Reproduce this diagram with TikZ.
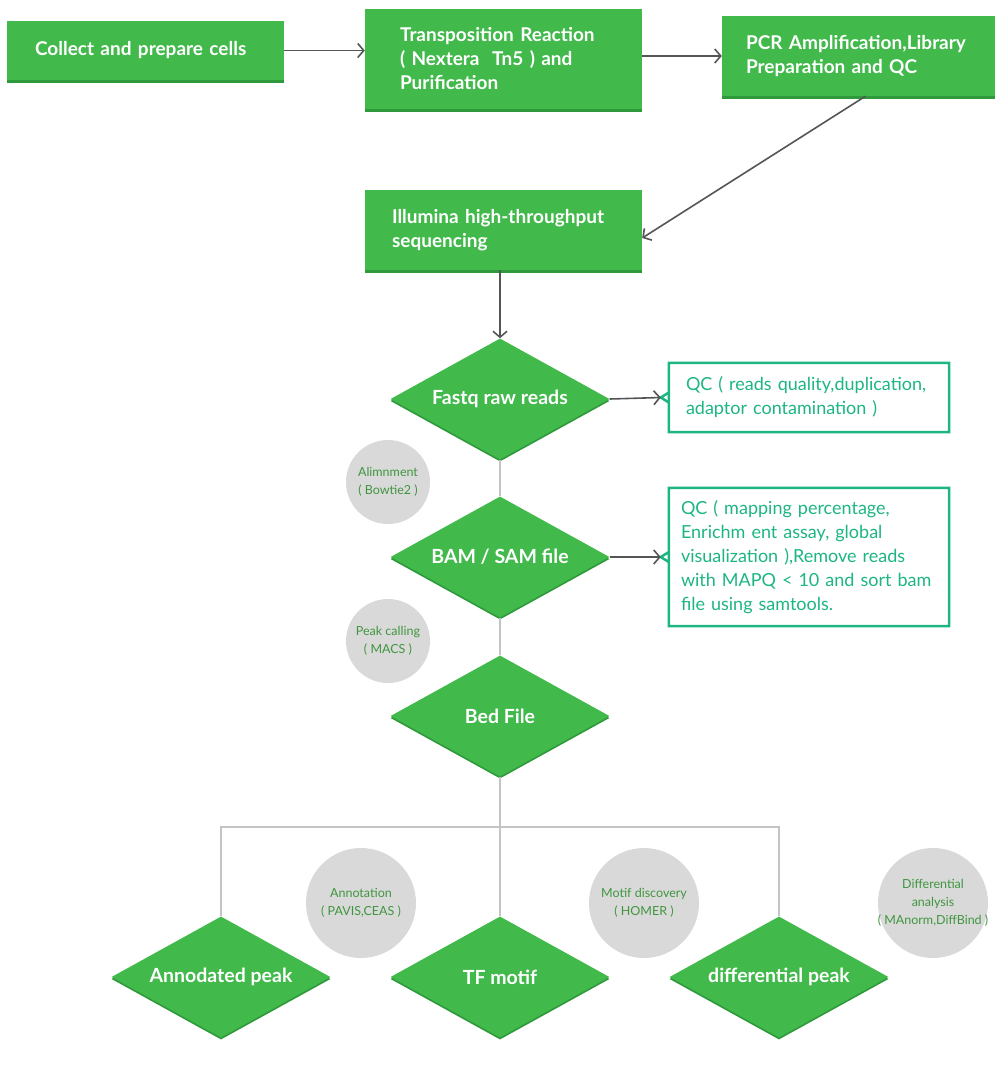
\documentclass[tikz,border=0pt]{standalone}
\usepackage{fontspec}
\setmainfont{Lato}
\usetikzlibrary{shapes.geometric,shadows,arrows.meta}

\definecolor{stepgreen}{HTML}{41B94B}
\definecolor{stepdark}{HTML}{2E9A3B}
\definecolor{qcteal}{HTML}{1DB584}
\definecolor{toolgrey}{HTML}{D9D9D9}
\definecolor{toolgreen}{HTML}{3F963F}
\definecolor{linkgrey}{HTML}{C4C4C4}
\definecolor{arrowgrey}{HTML}{555555}

\tikzset{
  stepbox/.style={rectangle, fill=stepgreen, text=white, font=\fontsize{19}{24}\selectfont\bfseries,
    align=left, minimum width=277pt, inner xsep=28pt, text width=221pt,
    drop shadow={shadow xshift=0pt, shadow yshift=-3pt, fill=stepdark, opacity=1}},
  filestep/.style={diamond, aspect=1.8, fill=stepgreen, text=white, font=\fontsize{19.5}{22}\selectfont\bfseries,
    minimum width=219pt, minimum height=121pt, inner sep=0pt,
    drop shadow={shadow xshift=0pt, shadow yshift=-2pt, fill=stepdark, opacity=1}},
  qcnote/.style={rectangle, text=qcteal, font=\fontsize{18}{24}\selectfont, align=left,
    minimum width=280pt, inner xsep=17pt, text width=246pt},
  qcline/.style={draw=qcteal, line width=2.5pt},
  toolnote/.style={circle, fill=toolgrey, text=toolgreen, font=\fontsize{12.5}{18}\selectfont,
    align=center, inner sep=-15pt},
  flow/.style={draw=arrowgrey, line width=1.6pt, -{Straight Barb[length=6pt,width=14pt,line width=1.6pt]}},
  link/.style={draw=linkgrey, line width=2pt}
}

\begin{document}
\begin{tikzpicture}[x=1pt, y=-1pt]
        \useasboundingbox (0,0) rectangle (1000,1080);

        % Wet lab steps
        \node [stepbox, minimum height=59pt] (collect) at (145.5,50.5) {Collect and prepare cells};
        \node [stepbox, minimum height=100pt, inner xsep=35pt, text width=207pt] (tn5) at (503.5,59) {Transposition Reaction\\( Nextera~ Tn5 ) and\\Purification};
        \node [stepbox, minimum height=80pt, minimum width=273pt, inner xsep=24pt, text width=225pt] (pcr) at (858.5,56) {PCR Amplification,Library\\Preparation and QC};
        \node [stepbox, minimum height=80pt, inner xsep=27pt, text width=223pt] (seq) at (503.5,230) {Illumina high-throughput\\sequencing};

        % Data files
        \node [filestep] (fastq) at (500,399) {Fastq raw reads};
        \node [filestep] (bam) at (500,557) {BAM / SAM file};
        \node [filestep] (bed) at (500,716) {Bed File};
        \node [filestep] (annpeak) at (221,977) {Annodated peak};
        \node [filestep] (tfmotif) at (500,977) {TF motif};
        \node [filestep] (diffpeak) at (779,977) {differential peak};

        % QC notes
        \node [qcnote, minimum height=69pt] (qcraw) at (809,397.5) {QC ( reads quality,duplication,\\adaptor contamination )};
        \node [qcnote, minimum height=138pt, inner xsep=12pt, text width=256pt] (qcmap) at (809,557) {QC ( mapping percentage,\\Enrichm ent assay, global\\visualization ),Remove reads\\with MAPQ < 10 and sort bam\\file using samtools.};
        \draw [qcline] (qcraw.north west) -- ([yshift=-5pt]qcraw.west) -- ([xshift=-8pt]qcraw.west)
            -- ([yshift=5pt]qcraw.west) -- (qcraw.south west) -- (qcraw.south east) -- (qcraw.north east) -- cycle;
        \draw [qcline] (qcmap.north west) -- ([yshift=-5pt]qcmap.west) -- ([xshift=-8pt]qcmap.west)
            -- ([yshift=5pt]qcmap.west) -- (qcmap.south west) -- (qcmap.south east) -- (qcmap.north east) -- cycle;

        % Tools
        \node [toolnote, minimum size=84pt] (bowtie) at (388,482) {Alimnment\\( Bowtie2 )};
        \node [toolnote, minimum size=84pt] (macs) at (388,641) {Peak calling\\( MACS )};
        \node [toolnote, minimum size=110pt] (annot) at (361,903) {Annotation\\( PAVIS,CEAS )};
        \node [toolnote, minimum size=110pt] (homer) at (644,903) {Motif discovery\\( HOMER )};
        \node [toolnote, minimum size=110pt] (diffbind) at (933,903) {Differential\\analysis\\( MAnorm,DiffBind )};

        % Arrows
        \draw [flow] (collect.east) -- (tn5.west |- collect.east);
        \draw [flow] (tn5.east |- pcr.west) -- (pcr.west);
        \draw [flow] ([xshift=7pt]pcr.south) -- ([yshift=-8pt]seq.east);
        \draw [flow] (fastq.north |- seq.south) -- (fastq.north);
        \draw [flow] (fastq.east) -- ([xshift=-8pt]qcraw.west);
        \draw [flow] (bam.east) -- ([xshift=-8pt]qcmap.west);

        % Links between files
        \coordinate (split) at (500,827);
        \draw [link] (fastq.south) -- (bam.north);
        \draw [link] (bam.south) -- (bed.north);
        \draw [link] (bed.south) -- (split);
        \draw [link] (annpeak.north) |- (split) -| (diffpeak.north);
        \draw [link] (split) -- (tfmotif.north);
    \end{tikzpicture}
\end{document}
